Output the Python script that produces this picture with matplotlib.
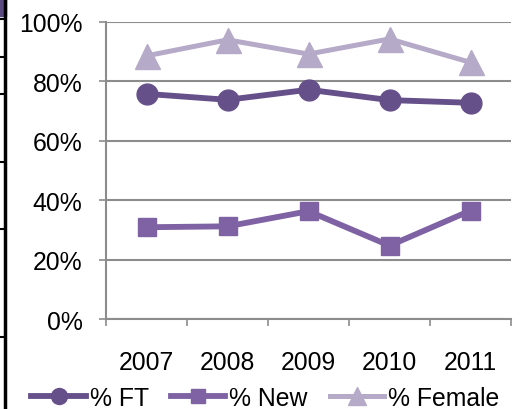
import matplotlib.pyplot as plt
from matplotlib.lines import Line2D

plt.rcParams['font.family'] = ['Liberation Sans', 'DejaVu Sans']

years = ["2007", "2008", "2009", "2010", "2011"]
pct_ft = [75.8, 73.8, 77.2, 73.7, 72.8]
pct_new = [30.9, 31.2, 36.3, 24.7, 36.5]
pct_female = [88.6, 94.0, 89.2, 94.3, 86.4]

c_ft = "#66508a"
c_new = "#7e62a3"
c_female = "#b6aac9"
c_grid = "#8c8c8c"

fig = plt.figure(figsize=(5.2, 4.1), dpi=100)
ax = fig.add_axes([106 / 520, 1 - 320 / 410, 405 / 520, 297 / 410])

x = list(range(1, len(years) + 1))
ax.plot(x, pct_female, color=c_female, lw=3.6, marker="^", ms=18, zorder=3)
ax.plot(x, pct_ft, color=c_ft, lw=4.2, marker="o", ms=15, zorder=3)
ax.plot(x, pct_new, color=c_new, lw=4.2, marker="s", ms=13.5, zorder=3)

ax.set_xlim(0.5, len(years) + 0.5)
ax.set_ylim(0, 100)
ax.set_yticks(range(0, 101, 20))
ax.set_yticklabels([f"{v}%" for v in range(0, 101, 20)])
ax.set_xticks(x)
ax.set_xticklabels(years)
ax.set_xticks([i + 0.5 for i in range(0, len(years) + 1)], minor=True)

ax.grid(axis="y", color=c_grid, lw=1.5, zorder=0)
for s in ("top", "right"):
    ax.spines[s].set_visible(False)
for s in ("left", "bottom"):
    ax.spines[s].set_color(c_grid)
    ax.spines[s].set_linewidth(1.5)
ax.tick_params(axis="y", length=5, width=1.2, color=c_grid, pad=12, labelsize=17.8)
ax.tick_params(axis="x", which="major", length=0, pad=22, labelsize=17.8)
ax.tick_params(axis="x", which="minor", length=5, width=1.2, color=c_grid)

handles = [
    Line2D([], [], color=c_ft, lw=4.2, marker="o", ms=11.5),
    Line2D([], [], color=c_new, lw=4.2, marker="s", ms=10.5),
    Line2D([], [], color=c_female, lw=3.6, marker="^", ms=13.5),
]
fig.legend(handles, ["% FT", "% New", "% Female"], loc="center",
           bbox_to_anchor=(0.51, 0.027), ncol=3, frameon=False, fontsize=17.8,
           handlelength=2.2, handletextpad=0.15, columnspacing=0.9, borderpad=0)

# cropped-edge artefacts from the source image
fig.add_artist(Line2D([5 / 520, 5 / 520], [0, 1], color="black", lw=2.5))
for yy in [20, 58, 95, 163, 230, 338]:
    fig.add_artist(Line2D([0, 5 / 520], [1 - yy / 410] * 2, color="black", lw=1.5))
fig.add_artist(plt.Rectangle((0, 1 - 17 / 410), 6 / 520, 17 / 410, color="#5a4a80",
                             transform=fig.transFigure))

fig.savefig("out.png", dpi=100)
